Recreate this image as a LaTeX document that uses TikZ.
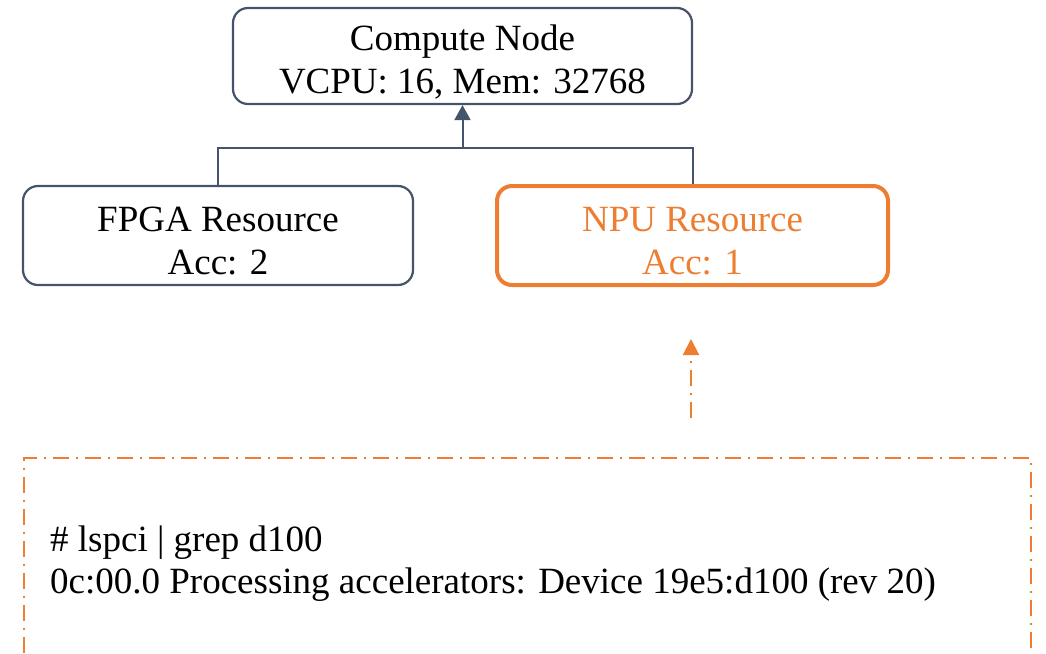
\documentclass[tikz,border=0pt]{standalone}
\usepackage{fontspec}
\setmainfont{Liberation Serif}
\usetikzlibrary{arrows.meta}
\definecolor{slate}{HTML}{44546A}
\definecolor{acc}{HTML}{ED7D31}
\tikzset{
  resbox/.style={draw=slate, line width=2.2pt, rounded corners=15pt, align=center,
    font=\fontsize{37}{43}\selectfont, inner sep=0pt},
  hlbox/.style={resbox, draw=acc, line width=4pt, text=acc},
  conn/.style={draw=slate, line width=2pt},
  dashdot/.style={draw=acc, line width=2pt, dash pattern=on 16pt off 7pt on 2pt off 7pt},
}
\begin{document}
\begin{tikzpicture}[x=1pt,y=-1pt]
\useasboundingbox (0,0) rectangle (1046,653);
\node[resbox, minimum width=459pt, minimum height=96pt] (cn) at (462.5,56) {\rule{0pt}{37pt}Compute Node\\VCPU: 16, Mem: 32768};
\node[resbox, minimum width=390pt, minimum height=99pt] (fpga) at (218,235.5) {\rule{0pt}{35pt}FPGA Resource\\Acc: 2};
\node[hlbox, minimum width=391pt, minimum height=99pt] (npu) at (692.5,235.5) {\rule{0pt}{35pt}NPU Resource\\Acc: 1};
\coordinate (j) at (462.5,148);
\draw[conn] (fpga.north) |- (j) -| (npu.north);
\draw[conn, -{Triangle[width=16pt,length=15pt]}] (j) -- (cn.south);
\coordinate (a1) at (691,418);
\coordinate (a2) at (691,339);
\draw[dashdot, -{Triangle[width=16pt,length=16pt]}] (a1) -- (a2);
\coordinate (b1) at (24,653);
\coordinate (b2) at (24,458);
\coordinate (b3) at (1031,458);
\coordinate (b4) at (1031,653);
\draw[dashdot] (b1) -- (b2) -- (b3) -- (b4);
\node[anchor=west, align=left, font=\fontsize{37}{42}\selectfont, inner sep=0pt] (cmd) at (50,564) {\# lspci | grep d100\\0c:00.0 Processing accelerators: Device 19e5:d100 (rev 20)};
\end{tikzpicture}
\end{document}
